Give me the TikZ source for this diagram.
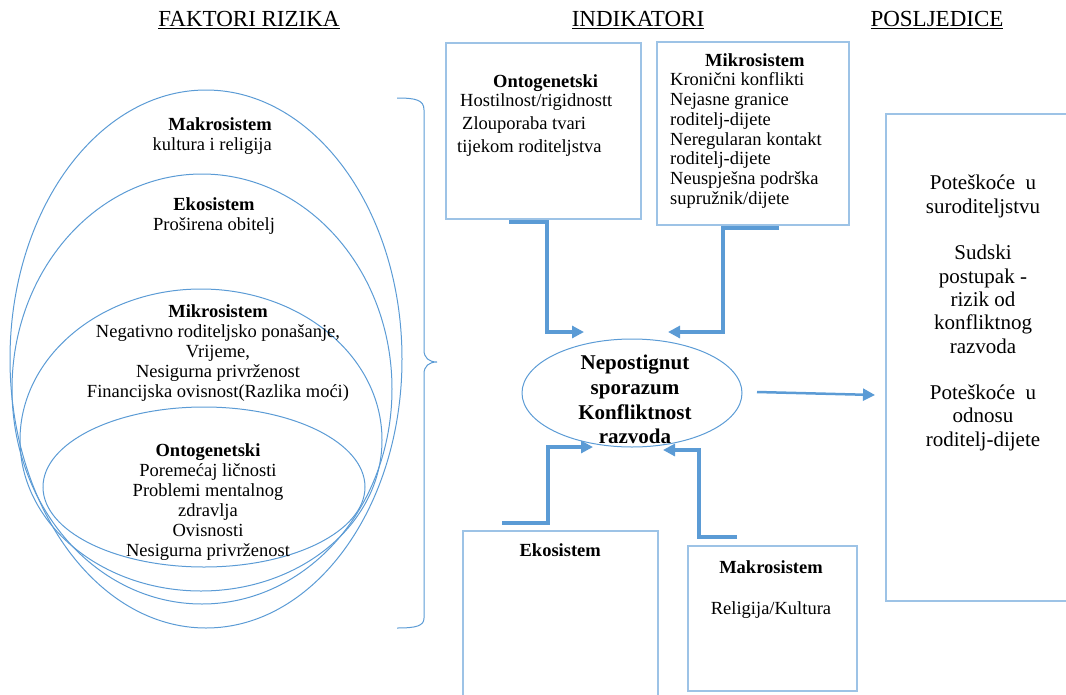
\documentclass[tikz,border=0pt]{standalone}
\usepackage{fontspec}
\setmainfont{Liberation Serif}
\usetikzlibrary{shapes.geometric,arrows.meta,positioning}
\definecolor{linkblue}{RGB}{91,155,213}
\definecolor{boxblue}{RGB}{157,195,230}
\tikzset{
    risk-ellipse/.style = {draw=linkblue, line width=1pt, ellipse, inner sep=0pt},
    indicator-box/.style = {draw=boxblue, line width=1.5pt, rectangle, inner sep=0pt},
    body-text/.style = {inner sep=0pt, font=\fontsize{18.5}{20}\selectfont},
    head-text/.style = {inner sep=0pt, font=\fontsize{23}{27}\selectfont},
    flow-arrow/.style = {draw=linkblue, line width=3.5pt, -{Triangle[length=12pt,width=12pt]}},
}

\begin{document}
\begin{tikzpicture}[x=1pt, y=-1pt]
\useasboundingbox (0,0) rectangle (1066,694);

% headings
\node[head-text, anchor=base] (risk-head) at (249,26.7) {\underline{FAKTORI RIZIKA}};
\node[head-text, anchor=base] (indicator-head) at (638,26.7) {\underline{INDIKATORI}};
\node[head-text, anchor=base] (outcome-head) at (937,26.7) {\underline{POSLJEDICE}};

% risk factors
\node[risk-ellipse, minimum width=392pt, minimum height=538pt] (makro-ell) at (206,359) {};
\node[risk-ellipse, minimum width=380pt, minimum height=430pt] (eko-ell) at (202,389) {};
\node[risk-ellipse, minimum width=362pt, minimum height=302pt] (mikro-ell) at (201,440) {};
\node[risk-ellipse, minimum width=322pt, minimum height=160pt] (onto-ell) at (204,487) {};

\node[body-text, align=right, anchor=east] (makro-text) at (272,136.5) {\textbf{Makrosistem}\\kultura i religija};
\node[body-text, align=center] (eko-text) at (214,216.5) {\textbf{Ekosistem}\\Proširena obitelj};
\node[body-text, align=center] (mikro-text) at (218,353) {\textbf{Mikrosistem}\\Negativno roditeljsko ponašanje,\\Vrijeme,\\Nesigurna privrženost\\Financijska ovisnost(Razlika moći)};
\node[body-text, align=center] (onto-text) at (208,502) {\textbf{Ontogenetski}\\Poremećaj ličnosti\\Problemi mentalnog\\zdravlja\\Ovisnosti\\Nesigurna privrženost};

\draw[draw=linkblue, line width=1pt] (397,98) .. controls (416,98) and (424,100) .. (424,110) -- (424,350)
    .. controls (424,358) and (429,362) .. (437,362) .. controls (429,362) and (424,366) .. (424,374) -- (424,618)
    .. controls (424,626) and (416,628) .. (397,628);

% indicators
\node[indicator-box, minimum width=195pt, minimum height=176pt, anchor=north west] (onto-box) at (445,42) {};
\node[body-text, align=left, anchor=west] (onto-list) at (457,115.8) {\hspace*{36pt}\textbf{Ontogenetski}\\[-1.5pt]\hspace*{3pt}Hostilnost/rigidnostt\\[3.3pt]\hspace*{5pt}Zlouporaba tvari\\[3.3pt]tijekom roditeljstva};

\node[indicator-box, minimum width=192pt, minimum height=183pt, anchor=north west] (mikro-box) at (656,41) {};
\node[body-text, align=left, anchor=west, font=\fontsize{18.5}{19.8}\selectfont] (mikro-list) at (670,131.2) {\hspace*{35pt}\textbf{Mikrosistem}\\[-0.8pt]Kronični konflikti\\Nejasne granice\\roditelj-dijete\\Neregularan kontakt\\roditelj-dijete\\Neuspješna podrška\\supružnik/dijete};

\node[risk-ellipse, minimum width=220pt, minimum height=108pt] (conflict) at (632,393) {};
\node[inner sep=0pt, align=center, font=\bfseries\fontsize{21}{24.8}\selectfont] (conflict-text) at (635,399.5) {Nepostignut\\sporazum\\Konfliktnost\\razvoda};

\node[indicator-box, minimum width=195pt, minimum height=180pt, anchor=north west] (eko-box) at (462,530) {};
\node[body-text, below=13.4pt] (eko-title) at (eko-box.north) {\textbf{Ekosistem}};

\node[indicator-box, minimum width=169pt, minimum height=145pt, anchor=north west] (makro-box) at (687,545) {};
\node[body-text, align=center] (makro-list) at (771,589.5) {\textbf{Makrosistem}\\[21pt]Religija/Kultura};

% consequences
\node[indicator-box, minimum width=200pt, minimum height=487pt, anchor=north west] (outcome-box) at (885,113) {};
\node[inner sep=0pt, align=center, font=\fontsize{21}{23.3}\selectfont] (outcome-text) at (983,313) {Poteškoće\ \ u\\suroditeljstvu\\[23.3pt]Sudski\\postupak -\\rizik od\\konfliktnog\\razvoda\\[23.3pt]Poteškoće\ \ u\\odnosu\\roditelj-dijete};

% arrows
\coordinate (onto-out) at (509,222);
\coordinate (onto-in) at (584,332);
\coordinate (mikro-out) at (779,228);
\coordinate (mikro-in) at (668,332);
\coordinate (eko-out) at (502,523);
\coordinate (eko-in) at (593,447);
\coordinate (makro-out) at (737,537);
\coordinate (makro-in) at (663,450);
\coordinate (result-out) at (757,392);
\coordinate (result-in) at (875,395);

\draw[flow-arrow] (onto-out) -- ++(38,0) |- (onto-in);
\draw[flow-arrow] (mikro-out) -- ++(-56,0) |- (mikro-in);
\draw[flow-arrow] (eko-out) -- ++(46,0) |- (eko-in);
\draw[flow-arrow] (makro-out) -- ++(-38,0) |- (makro-in);
\draw[flow-arrow, line width=2.5pt] (result-out) -- (result-in);
\end{tikzpicture}
\end{document}
